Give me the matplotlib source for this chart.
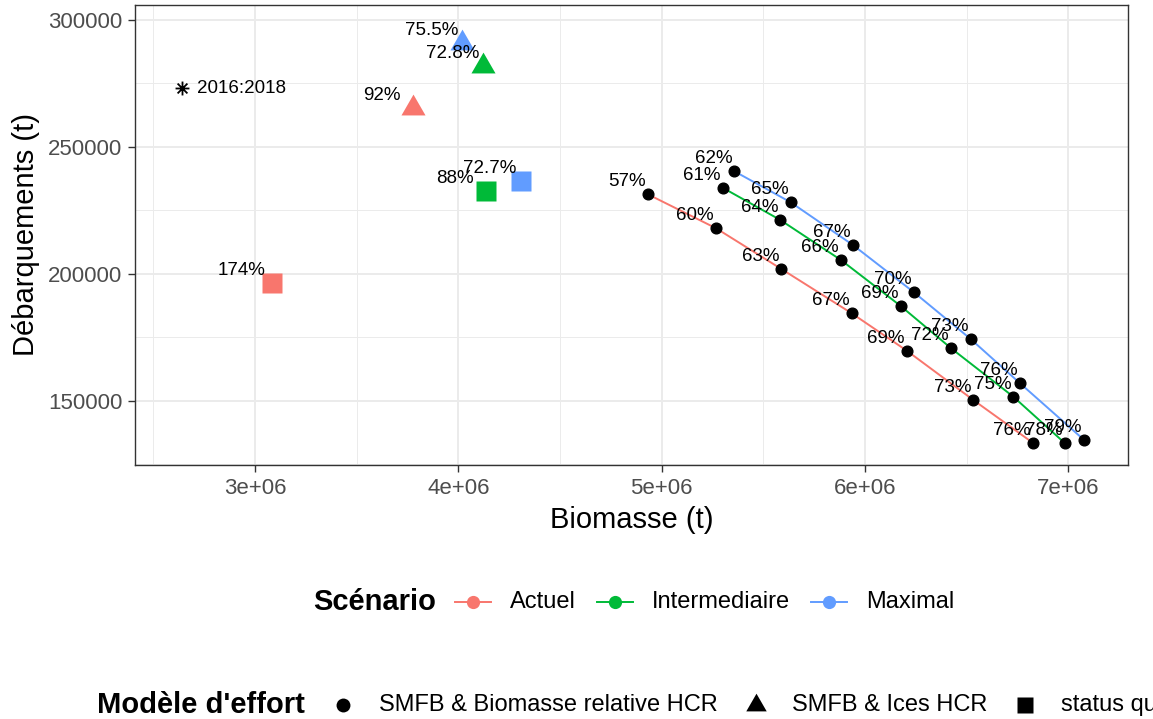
import matplotlib
matplotlib.use("Agg")
import matplotlib.pyplot as plt
from matplotlib.lines import Line2D
from matplotlib.path import Path
from matplotlib.ticker import FixedLocator

# ---------------- data ----------------
scenarios = ["Actuel", "Intermediaire", "Maximal"]
scenario_colors = ["#F8766D", "#00BA38", "#619CFF"]
effort_models = ["SMFB & Biomasse relative HCR", "SMFB & Ices HCR", "status quo"]

# SMFB & Biomasse relative HCR (circles, one line per scenario)
actuel_biomass = [4.932e6, 5.268e6, 5.589e6, 5.935e6, 6.206e6, 6.533e6, 6.825e6]
actuel_landings = [231400, 218000, 201970, 184530, 169800, 150400, 133580]
actuel_pct = [57, 60, 63, 67, 69, 73, 76]

inter_biomass = [5.300e6, 5.584e6, 5.882e6, 6.176e6, 6.424e6, 6.730e6, 6.984e6]
inter_landings = [233980, 221260, 205510, 187400, 170750, 151690, 133350]
inter_pct = [61, 64, 66, 69, 72, 75, 78]

maximal_biomass = [5.358e6, 5.635e6, 5.941e6, 6.241e6, 6.520e6, 6.763e6, 7.078e6]
maximal_landings = [240430, 228230, 211420, 192800, 174410, 156970, 134650]
maximal_pct = [62, 65, 67, 70, 73, 76, 79]

# SMFB & Ices HCR (triangles), order = scenarios
ices_biomass = [3.776e6, 4.123e6, 4.020e6]
ices_landings = [265470, 282050, 290900]
ices_pct = [92, 72.8, 75.5]

# status quo (squares), order = scenarios
sq_biomass = [3.085e6, 4.138e6, 4.307e6]
sq_landings = [196580, 232800, 236610]
sq_pct = [174, 88, 72.7]

# reference period
ref_biomass = [2.639e6]
ref_landings = [273110]
ref_labels = ["2016:2018"]

x_ticks = [3e6, 4e6, 5e6, 6e6, 7e6]
x_tick_labels = ["3e+06", "4e+06", "5e+06", "6e+06", "7e+06"]
y_ticks = [150000, 200000, 250000, 300000]
y_tick_labels = ["150000", "200000", "250000", "300000"]

# ---------------- style ----------------
plt.rcParams["font.family"] = ["Liberation Sans", "DejaVu Sans"]
W, H = 1153, 719
fig = plt.figure(figsize=(W / 100, H / 100), dpi=100)
fig.patch.set_facecolor("white")
ax = fig.add_axes([135 / W, 1 - 465 / H, (1128 - 135) / W, (465 - 5) / H])

tri_path = Path([(0, 1), (-0.866, -0.5), (0.866, -0.5), (0, 1)],
                [Path.MOVETO, Path.LINETO, Path.LINETO, Path.CLOSEPOLY])
ast_path = Path([(-1, 0), (1, 0), (0, -1), (0, 1),
                 (-0.707, -0.707), (0.707, 0.707), (-0.707, 0.707), (0.707, -0.707)],
                [Path.MOVETO, Path.LINETO] * 4)

LABEL_FS = 13.5
circ_series = [(actuel_biomass, actuel_landings, actuel_pct),
               (inter_biomass, inter_landings, inter_pct),
               (maximal_biomass, maximal_landings, maximal_pct)]

# lines
for (bx, ly, _), col in zip(circ_series, scenario_colors):
    ax.plot(bx, ly, color=col, lw=1.4, zorder=2)

# triangles & squares
for i, col in enumerate(scenario_colors):
    ax.plot([ices_biomass[i]], [ices_landings[i]], linestyle="none", marker=tri_path,
            ms=20, color=col, mec="none", zorder=3)
    ax.plot([sq_biomass[i]], [sq_landings[i]], linestyle="none", marker="s",
            ms=13.7, color=col, mec="none", zorder=3)

# black circles
for bx, ly, _ in circ_series:
    ax.plot(bx, ly, linestyle="none", marker="o", ms=7.7, color="black", zorder=4)

# asterisk reference
ax.plot(ref_biomass, ref_landings, linestyle="none", marker=ast_path, ms=10,
        mfc="none", mec="black", mew=1.3, zorder=4)
for bx, ly, lab in zip(ref_biomass, ref_landings, ref_labels):
    ax.annotate(lab, (bx, ly), xytext=(11, 0), textcoords="offset points",
                ha="left", va="center", fontsize=LABEL_FS, zorder=5)

# percentage labels
for bx, ly, pc in circ_series:
    for x, y, p in zip(bx, ly, pc):
        ax.annotate(f"{p:g}%", (x, y), xytext=(-15.1, 5.8), textcoords="offset points",
                    ha="center", va="baseline", fontsize=LABEL_FS, zorder=5)
for bxs, lys, pcs in [(ices_biomass, ices_landings, ices_pct),
                      (sq_biomass, sq_landings, sq_pct)]:
    for x, y, p in zip(bxs, lys, pcs):
        ax.annotate(f"{p:g}%", (x, y), xytext=(-22.3, 5.8), textcoords="offset points",
                    ha="center", va="baseline", fontsize=LABEL_FS, zorder=5)

# axes
ax.set_xlim(2.410e6, 7.294e6)
ax.set_ylim(124800, 305906)
ax.set_xticks(x_ticks)
ax.set_xticklabels(x_tick_labels)
ax.set_yticks(y_ticks)
ax.set_yticklabels(y_tick_labels)
ax.xaxis.set_minor_locator(FixedLocator([2.5e6, 3.5e6, 4.5e6, 5.5e6, 6.5e6]))
ax.yaxis.set_minor_locator(FixedLocator([125000, 175000, 225000, 275000]))
ax.grid(which="major", color="#EBEBEB", lw=1.4, zorder=0)
ax.grid(which="minor", color="#EBEBEB", lw=0.7, zorder=0)
ax.set_axisbelow(True)
ax.tick_params(which="major", length=5, width=1.0, color="#333333",
               labelsize=16, labelcolor="#4D4D4D", pad=4)
ax.tick_params(which="minor", length=0)
for s in ax.spines.values():
    s.set_color("#333333")
    s.set_linewidth(1.0)

ax.set_xlabel("Biomasse (t)", fontsize=21)
ax.set_ylabel("Débarquements (t)", fontsize=21)
ax.xaxis.label.set_va("center")
ax.xaxis.set_label_coords(0.5, (465 - 520) / 460)
ax.yaxis.label.set_va("center")
ax.yaxis.label.set_ha("center")
ax.yaxis.set_label_coords((26 - 135) / 993, 0.5)

# ---------------- legends (manual, ggplot style) ----------------
renderer = fig.canvas.get_renderer()


def fx(px):
    return px / W


def fy(py):
    return 1 - py / H


def put_text(x, y, s, **kw):
    t = fig.text(fx(x), fy(y), s, ha="left", va="center", **kw)
    return x + t.get_window_extent(renderer).width


def put_marker(x, y, **kw):
    fig.add_artist(Line2D([fx(x)], [fy(y)], transform=fig.transFigure,
                          linestyle="none", **kw))


def put_line(x0, x1, y, **kw):
    fig.add_artist(Line2D([fx(x0), fx(x1)], [fy(y), fy(y)],
                          transform=fig.transFigure, **kw))


LEG_FS = 17
# Scénario legend
y1 = 602
x = put_text(313, y1, "Scénario", fontsize=21, fontweight="bold")
for name, col in zip(scenarios, scenario_colors):
    c = x + 37
    put_line(c - 18, c + 18, y1, color=col, lw=1.4)
    put_marker(c, y1, marker="o", ms=9.5, color=col, mec="none")
    x = put_text(c + 37, y1, name, fontsize=LEG_FS)
    x += 2

# Modèle d'effort legend
y2 = 705
eff_markers = [dict(marker="o", ms=10), dict(marker=tri_path, ms=17), dict(marker="s", ms=11.5)]
x = put_text(97, y2, "Modèle d'effort", fontsize=21, fontweight="bold")
for name, mk in zip(effort_models, eff_markers):
    c = x + 38
    put_marker(c, y2, color="black", mec="none", **mk)
    x = put_text(c + 36, y2, name, fontsize=LEG_FS)

fig.savefig("out.png", dpi=100, facecolor="white")
